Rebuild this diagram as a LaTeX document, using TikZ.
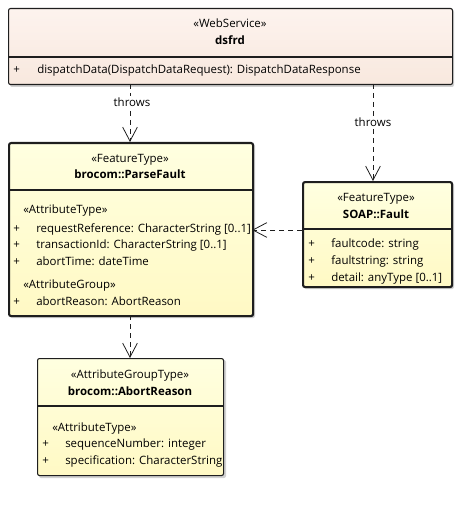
\documentclass[tikz,border=0pt]{standalone}
\usepackage{fontspec}
\setmainfont{Open Sans}
\usetikzlibrary{arrows.meta}
\definecolor{peachtop}{HTML}{FDF3EE}
\definecolor{peachbot}{HTML}{F8E8DE}
\definecolor{yeltop}{HTML}{FFFFE0}
\definecolor{yelbot}{HTML}{FFF9C4}
\definecolor{brd}{HTML}{1E1E1E}
\begin{document}
\begin{tikzpicture}[x=0.75pt,y=-0.75pt,
  every node/.style={font=\fontsize{8.6pt}{10pt}\selectfont, inner sep=0pt},
  umlbox/.style={draw=brd, rounded corners=1.5pt, anchor=north west, inner sep=0pt},
  peachbox/.style={umlbox, line width=0.8pt, top color=peachtop, bottom color=peachbot},
  thickbox/.style={umlbox, line width=1.6pt, top color=yeltop, bottom color=yelbot},
  thinbox/.style={umlbox, line width=0.8pt, top color=yeltop, bottom color=yelbot},
  shadow/.style={fill=black!18, rounded corners=1.5pt},
  lbl/.style={anchor=base west},
  ctr/.style={anchor=base},
  bname/.style={anchor=base, font=\fontsize{8.6pt}{10pt}\selectfont\bfseries},
  dep/.style={draw=brd, line width=0.6pt, dash pattern=on 3.75pt off 3pt, -{Straight Barb[length=10.5pt,width=11pt,line width=0.6pt]}},
  deplabel/.style={fill=white, inner sep=1.5pt}
]
\useasboundingbox (0,0) rectangle (466,524);
% shadows
\fill[shadow] (10,10) rectangle (454,87);
\fill[shadow] (10,144) rectangle (255,318);
\fill[shadow] (304,183) rectangle (454,289);
\fill[shadow] (39,360) rectangle (226,478);
% boxes
\node[peachbox, minimum width={444*0.75pt}, minimum height={76*0.75pt}] (ws) at (8,8) {};
\node[thickbox, minimum width={244*0.75pt}, minimum height={173*0.75pt}] (pf) at (8,142) {};
\node[thickbox, minimum width={149*0.75pt}, minimum height={105*0.75pt}] (sf) at (302,181) {};
\node[thinbox, minimum width={186*0.75pt}, minimum height={117*0.75pt}] (ar) at (37,358) {};
% dividers
\draw[brd, line width=0.8pt] (ws.west |- 0,57) -- (ws.east |- 0,57);
\draw[brd, line width=1.6pt] (pf.west |- 0,190) -- (pf.east |- 0,190);
\draw[brd, line width=1.6pt] (sf.west |- 0,229) -- (sf.east |- 0,229);
\draw[brd, line width=0.8pt] (ar.west |- 0,406) -- (ar.east |- 0,406);
% WebService texts
\node[ctr] (wsst) at (230,28) {«WebService»};
\node[bname] (wsnm) at (230,45) {dsfrd};
\node[lbl] (wsp) at (13,74) {+};
\node[lbl] (wsop) at (37,74) {dispatchData(DispatchDataRequest): DispatchDataResponse};
% ParseFault texts
\node[ctr] (pfst) at (130,162) {«FeatureType»};
\node[bname] (pfnm) at (130,178) {brocom::ParseFault};
\node[lbl] (pfat) at (23,213) {«AttributeType»};
\node[lbl] (pfp1) at (13,232) {+};
\node[lbl] (pfa1) at (36,232) {requestReference: CharacterString [0..1]};
\node[lbl] (pfp2) at (13,248) {+};
\node[lbl] (pfa2) at (36,248) {transactionId: CharacterString [0..1]};
\node[lbl] (pfp3) at (13,265) {+};
\node[lbl] (pfa3) at (36,265) {abortTime: dateTime};
\node[lbl] (pfag) at (23,288) {«AttributeGroup»};
\node[lbl] (pfp4) at (13,305) {+};
\node[lbl] (pfa4) at (36,305) {abortReason: AbortReason};
% SOAP Fault texts
\node[ctr] (sfst) at (376,201) {«FeatureType»};
\node[bname] (sfnm) at (376,218) {SOAP::Fault};
\node[lbl] (sfp1) at (308,247) {+};
\node[lbl] (sfa1) at (331,247) {faultcode: string};
\node[lbl] (sfp2) at (308,264) {+};
\node[lbl] (sfa2) at (331,264) {faultstring: string};
\node[lbl] (sfp3) at (308,281) {+};
\node[lbl] (sfa3) at (331,281) {detail: anyType [0..1]};
% AbortReason texts
\node[ctr] (arst) at (130,378) {«AttributeGroupType»};
\node[bname] (arnm) at (130,395) {brocom::AbortReason};
\node[lbl] (arat) at (52,431) {«AttributeType»};
\node[lbl] (arp1) at (42,447) {+};
\node[lbl] (ara1) at (65,447) {sequenceNumber: integer};
\node[lbl] (arp2) at (42,464) {+};
\node[lbl] (ara2) at (65,464) {specification: CharacterString};
% connectors
\coordinate (c1s) at (130,84);
\coordinate (c1e) at (130,142);
\coordinate (c2s) at (373,84);
\coordinate (c2e) at (373,181);
\coordinate (c3s) at (302,230);
\coordinate (c3e) at (252,230);
\coordinate (c4s) at (130,315);
\coordinate (c4e) at (130,358);
\draw[dep] (c1s) -- (c1e);
\draw[dep] (c2s) -- (c2e);
\draw[dep] (c3s) -- (c3e);
\draw[dep] (c4s) -- (c4e);
\node[deplabel] (t1) at (132,102) {throws};
\node[deplabel] (t2) at (373,122) {throws};
\end{tikzpicture}
\end{document}
